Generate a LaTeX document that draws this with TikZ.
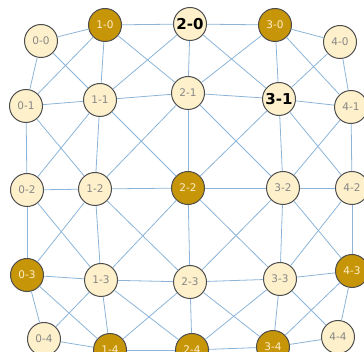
\documentclass[tikz,border=0pt]{standalone}
\usepackage{fontspec}
\setsansfont{DejaVu Sans}

\definecolor{cellfill}{RGB}{253,240,202}
\definecolor{cellgold}{RGB}{199,149,8}
\definecolor{linkblue}{RGB}{140,180,216}
\definecolor{labelgray}{RGB}{135,135,135}

\begin{document}
\begin{tikzpicture}[x=1pt, y=-1pt,
  cell/.style={circle, draw=black!70, line width=1pt, fill=cellfill,
    minimum size=33pt, inner sep=0pt, text=labelgray,
    font=\sffamily\fontsize{10.5}{12}\selectfont},
  goldcell/.style={cell, fill=cellgold, text=cellfill},
  boldcell/.style={cell, text=black,
    font=\sffamily\bfseries\fontsize{15}{17}\selectfont},
  link/.style={draw=linkblue, line width=0.8pt}]
  \useasboundingbox (0,0) rectangle (364,352);
  \clip (0,0) rectangle (364,352);

  %% the 5x5 grid of cells
  \foreach \i/\j/\x/\y/\kind in {
      0/0/41/41/cell,      1/0/105/25/goldcell, 2/0/190/24/boldcell,
      3/0/275/25/goldcell, 4/0/340/42/cell,
      0/1/26/106/cell,     1/1/100/100/cell,    2/1/188/93/cell,
      3/1/279/99/boldcell, 4/1/351/107/cell,
      0/2/27/190/cell,     1/2/95/189/cell,     2/2/188/188/goldcell,
      3/2/283/188/cell,    4/2/352/188/cell,
      0/3/27/275/goldcell, 1/3/101/280/cell,    2/3/190/282/cell,
      3/3/280/279/cell,    4/3/352/271/goldcell,
      0/4/44/339/cell,     1/4/110/350/goldcell, 2/4/192/350/goldcell,
      3/4/273/347/goldcell, 4/4/338/337/cell}
    \node[\kind] (c\i\j) at (\x,\y) {\i-\j};

  %% king moves: right, down and both diagonals
  \foreach \i [evaluate=\i as \ii using int(\i+1)] in {0,...,3} {
    \foreach \j [evaluate=\j as \jj using int(\j+1)] in {0,...,3} {
      \draw[link] (c\i\j) -- (c\ii\j);
      \draw[link] (c\i\j) -- (c\i\jj);
      \draw[link] (c\i\j) -- (c\ii\jj);
      \draw[link] (c\ii\j) -- (c\i\jj);
    }
  }
  %% last column and last row
  \foreach \k [evaluate=\k as \kk using int(\k+1)] in {0,...,3} {
    \draw[link] (c4\k) -- (c4\kk);
    \draw[link] (c\k4) -- (c\kk4);
  }
\end{tikzpicture}
\end{document}
